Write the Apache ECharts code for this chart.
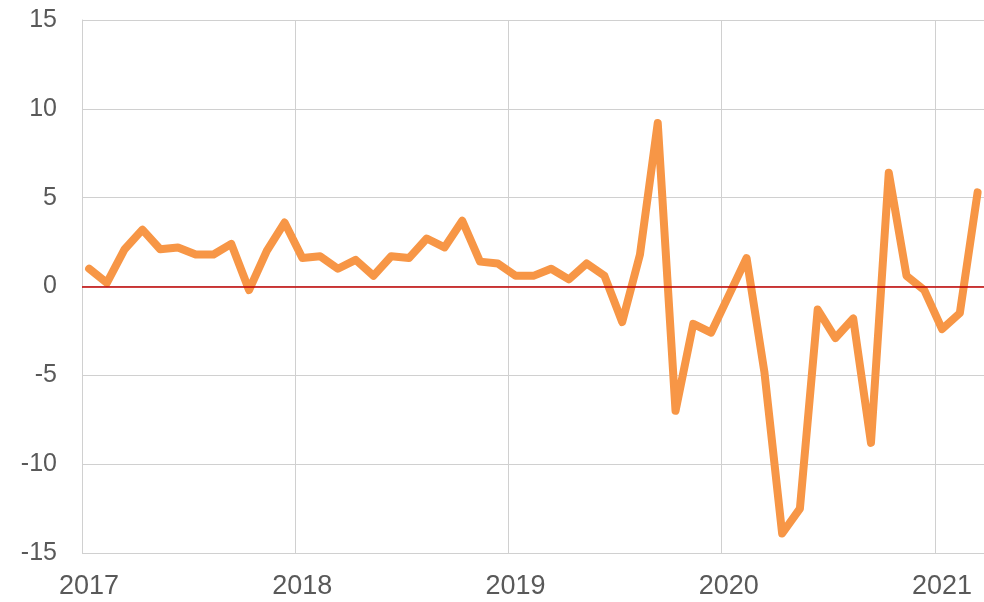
<!DOCTYPE html>
<html>
<head>
<meta charset="utf-8">
<script src="https://cdn.jsdelivr.net/npm/echarts@6/dist/echarts.min.js"></script>
<style>
  html, body { margin: 0; padding: 0; background: #fff; }
  #chartLine { width: 984px; height: 602px; }
</style>
</head>
<body>
<div id="chartLine"></div>
<script>
// monthly observations, Jan 2017 .. Mar 2021
var startYear = 2017;
var startMonth = 1;
var values = [
  1.0, 0.2, 2.1, 3.2, 2.1, 2.2, 1.8, 1.8, 2.4, -0.2, 2.0, 3.6,
  1.6, 1.7, 1.0, 1.5, 0.6, 1.7, 1.6, 2.7, 2.2, 3.7, 1.4, 1.3,
  0.6, 0.6, 1.0, 0.4, 1.3, 0.6, -2.0, 1.8, 9.2, -7.0, -2.1, -2.6,
  -0.5, 1.6, -4.8, -13.9, -12.5, -1.3, -2.9, -1.8, -8.8, 6.4, 0.6, -0.2,
  -2.4, -1.5, 5.3
];
var yTicks = [-15, -10, -5, 0, 5, 10, 15];
var yearTicks = [2017, 2018, 2019, 2020, 2021];

// points sit a little into each month, as in the source workbook
var data = [];
for (var i = 0; i < values.length; i++) {
  var m = startMonth - 1 + i;
  data.push([startYear + (m + 0.4) / 12, values[i]]);
}

var chart = echarts.init(document.getElementById('chartLine'));
chart.setOption({
  animation: false,
  grid: { left: 82, right: 0, top: 20, bottom: 49 },
  xAxis: {
    type: 'value',
    min: yearTicks[0],
    max: 2021.23,
    interval: 1,
    axisLine: { show: false },
    axisTick: { show: false },
    splitLine: { show: true, lineStyle: { color: '#d0d0d0', width: 1 } },
    axisLabel: {
      showMaxLabel: false,
      color: '#595959',
      fontFamily: 'Liberation Sans, Arial, sans-serif',
      fontSize: 27,
      margin: 20,
      padding: [0, 0, 0, 14],   // year labels sit over the January point
      formatter: function (v) { return yearTicks.indexOf(v) >= 0 ? String(v) : ''; }
    }
  },
  yAxis: {
    type: 'value',
    min: yTicks[0],
    max: yTicks[yTicks.length - 1],
    interval: 5,
    axisLine: { show: true, lineStyle: { color: '#d0d0d0', width: 1 } },
    axisTick: { show: false },
    splitLine: { show: true, lineStyle: { color: '#d0d0d0', width: 1 } },
    axisLabel: {
      color: '#595959',
      fontFamily: 'Liberation Sans, Arial, sans-serif',
      fontSize: 25,
      margin: 25
    }
  },
  series: [{
    type: 'line',
    data: data,
    symbol: 'none',
    lineStyle: { color: '#f79646', width: 8, cap: 'round', join: 'round' },
    markLine: {
      silent: true,
      symbol: 'none',
      label: { show: false },
      lineStyle: { color: '#c00000', width: 1.5, type: 'solid' },
      data: [{ yAxis: 0 }]
    },
    z: 3
  }]
});
</script>
</body>
</html>
